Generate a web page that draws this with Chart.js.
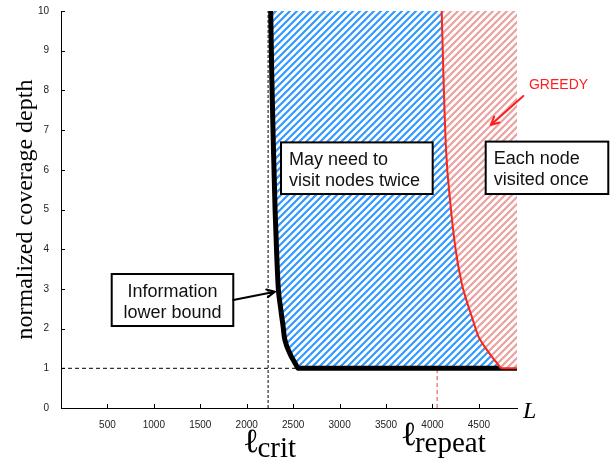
<!DOCTYPE html>
<html>
<head>
<meta charset="utf-8">
<script src="https://cdn.jsdelivr.net/npm/chart.js@4.4.0/dist/chart.umd.min.js"></script>
<style>
  html, body { margin: 0; padding: 0; background: #fff; }
  canvas { display: block; }
</style>
</head>
<body>
<canvas id="c" width="614" height="462"></canvas>
<script>
// Information lower bound: normalized coverage depth as a function of L
const lowerBoundL     = [2258, 2270, 2288, 2305, 2322, 2340, 2360, 2377, 2392, 2404, 2425, 2448, 2475, 2501, 2530, 2555, 4910];
const lowerBoundDepth = [10, 8.3, 6.5, 5.0, 3.9, 3.0, 2.6, 2.3, 2.05, 1.8, 1.6, 1.46, 1.32, 1.21, 1.09, 1.0, 1.0];

// GREEDY: normalized coverage depth as a function of L
const greedyL     = [4099, 4120, 4146, 4189, 4250, 4315, 4370, 4422, 4493, 4540, 4584, 4640, 4692, 4745, 4910];
const greedyDepth = [10, 8.2, 6.5, 5.24, 3.98, 3.14, 2.68, 2.31, 1.81, 1.62, 1.47, 1.29, 1.14, 1.0, 1.0];

// Thresholds
const lCrit = 2230;
const lRepeat = 4050;
const depthFloor = 1;

// Axis extents and ticks
const lMax = 4910;
const depthMax = 10;
const xTickValues = [500, 1000, 1500, 2000, 2500, 3000, 3500, 4000, 4500];
const yTickValues = [0, 1, 2, 3, 4, 5, 6, 7, 8, 9, 10];

const pts = (xs, ys) => xs.map((x, i) => ({ x, y: ys[i] }));
const floorEndL = lowerBoundL[lowerBoundDepth.findIndex(d => d <= depthFloor)];

const canvas = document.getElementById('c');
const ctx = canvas.getContext('2d');

// diagonal hatch fill on a white ground
function hatch(color) {
  const s = 7;
  const tile = document.createElement('canvas');
  tile.width = s; tile.height = s;
  const g = tile.getContext('2d');
  g.fillStyle = '#ffffff';
  g.fillRect(0, 0, s, s);
  g.strokeStyle = color;
  g.lineWidth = 2.2;
  g.beginPath();
  for (const o of [-s, 0, s]) {
    g.moveTo(o - 1, s + 1);
    g.lineTo(o + s + 1, -1);
  }
  g.stroke();
  return ctx.createPattern(tile, 'repeat');
}
const blueHatch = hatch('#3399ff');
const pinkHatch = hatch('#eba1a1');

// text boxes, in data coordinates (L, depth)
const notes = [
  { x0: 546,  x1: 1855, yTop: 3.375, yBot: 2.065, lines: ['Information', 'lower bound'], align: 'center' },
  { x0: 2369, x1: 4002, yTop: 6.69,  yBot: 5.39,  lines: ['May need to', 'visit nodes twice'], align: 'left' },
  { x0: 4573, x1: 5893, yTop: 6.71,  yBot: 5.39,  lines: ['Each node', 'visited once'], align: 'left' }
];
const arrows = [
  { from: [1855, 2.72], to: [2304, 2.93], color: '#000' },
  { from: [4978, 7.86], to: [4627, 7.13], color: '#ff1f1f' }
];

function drawArrow(c, ax, ay, bx, by, color) {
  const ang = Math.atan2(by - ay, bx - ax);
  const h = 9, spread = 0.45;
  c.save();
  c.strokeStyle = color;
  c.lineWidth = 2;
  c.lineCap = 'round';
  c.lineJoin = 'round';
  c.beginPath();
  c.moveTo(ax, ay);
  c.lineTo(bx, by);
  c.moveTo(bx - h * Math.cos(ang - spread), by - h * Math.sin(ang - spread));
  c.lineTo(bx, by);
  c.lineTo(bx - h * Math.cos(ang + spread), by - h * Math.sin(ang + spread));
  c.stroke();
  c.restore();
}

const decorations = {
  id: 'decorations',
  afterDraw(chart) {
    const c = chart.ctx;
    const xs = chart.scales.x, ys = chart.scales.y;
    const area = chart.chartArea;
    c.save();

    // inward tick marks
    c.strokeStyle = '#000';
    c.lineWidth = 1;
    c.beginPath();
    xTickValues.forEach(v => {
      const px = Math.round(xs.getPixelForValue(v)) + 0.5;
      c.moveTo(px, area.bottom);
      c.lineTo(px, area.bottom - 4);
    });
    yTickValues.forEach(v => {
      const py = Math.round(ys.getPixelForValue(v)) + 0.5;
      c.moveTo(area.left, py);
      c.lineTo(area.left + 4, py);
    });
    c.stroke();

    // y axis title
    c.save();
    c.translate(32, (area.top + area.bottom) / 2);
    c.rotate(-Math.PI / 2);
    c.fillStyle = '#000';
    c.font = '24px "Liberation Serif", "Times New Roman", serif';
    c.textAlign = 'center';
    c.textBaseline = 'alphabetic';
    c.fillText('normalized coverage depth', 0, 0);
    c.restore();

    // x axis variable
    c.fillStyle = '#000';
    c.font = 'italic 24px "Liberation Serif", "Times New Roman", serif';
    c.textAlign = 'left';
    c.textBaseline = 'alphabetic';
    c.fillText('L', area.right + 6, area.bottom + 10);

    // threshold labels under the axis
    const ell = (value, dx, base, sub, subDrop) => {
      const left = xs.getPixelForValue(value) + dx;
      c.font = '34px "Liberation Serif", "DejaVu Serif", serif';
      c.fillText('\u2113', left, area.bottom + base);
      const w = c.measureText('\u2113').width;
      c.font = '29px "Liberation Serif", "DejaVu Serif", serif';
      c.fillText(sub, left + w - 2, area.bottom + base + subDrop);
    };
    ell(lCrit, -25, 44, 'crit', 4.5);
    ell(lRepeat, -36.5, 37, 'repeat', 6.5);

    // text boxes
    notes.forEach(n => {
      const x0 = xs.getPixelForValue(n.x0), x1 = xs.getPixelForValue(n.x1);
      const y0 = ys.getPixelForValue(n.yTop), y1 = ys.getPixelForValue(n.yBot);
      c.fillStyle = '#fff';
      c.fillRect(x0, y0, x1 - x0, y1 - y0);
      c.strokeStyle = '#000';
      c.lineWidth = 2;
      c.strokeRect(x0, y0, x1 - x0, y1 - y0);
      c.fillStyle = '#111';
      c.font = '18px "Liberation Sans", Arial, sans-serif';
      c.textAlign = n.align;
      const tx = n.align === 'center' ? (x0 + x1) / 2 : x0 + 8;
      n.lines.forEach((t, i) => c.fillText(t, tx, y0 + 22.5 + i * 21));
    });

    // arrows
    arrows.forEach(a => {
      drawArrow(c,
        xs.getPixelForValue(a.from[0]), ys.getPixelForValue(a.from[1]),
        xs.getPixelForValue(a.to[0]), ys.getPixelForValue(a.to[1]), a.color);
    });

    // GREEDY tag
    c.fillStyle = '#ff1f1f';
    c.font = '14px "Liberation Sans", Arial, sans-serif';
    c.textAlign = 'left';
    c.fillText('GREEDY', xs.getPixelForValue(5039), ys.getPixelForValue(8.03));

    c.restore();
  }
};

new Chart(ctx, {
  type: 'line',
  data: {
    datasets: [
      {
        label: 'GREEDY',
        data: pts(greedyL, greedyDepth),
        borderColor: '#ff2414',
        borderWidth: 2,
        backgroundColor: pinkHatch,
        fill: 'end',
        pointRadius: 0,
        cubicInterpolationMode: 'monotone'
      },
      {
        label: 'Information lower bound',
        data: pts(lowerBoundL, lowerBoundDepth),
        borderColor: '#000',
        borderWidth: 5,
        backgroundColor: blueHatch,
        fill: 'end',
        pointRadius: 0,
        borderJoinStyle: 'round',
        cubicInterpolationMode: 'monotone'
      },
      {
        label: 'l_repeat',
        data: [{ x: lRepeat, y: 0 }, { x: lRepeat, y: depthMax }],
        borderColor: 'rgba(235, 45, 35, 0.9)',
        borderWidth: 1,
        borderDash: [4, 3],
        fill: false,
        pointRadius: 0
      },
      {
        label: 'l_crit',
        data: [{ x: lCrit, y: 0 }, { x: lCrit, y: depthMax }],
        borderColor: '#000',
        borderWidth: 1,
        borderDash: [3, 2],
        fill: false,
        pointRadius: 0
      },
      {
        label: 'depth 1',
        data: [{ x: 0, y: depthFloor }, { x: floorEndL, y: depthFloor }],
        borderColor: '#000',
        borderWidth: 1,
        borderDash: [4, 3],
        fill: false,
        pointRadius: 0
      }
    ]
  },
  options: {
    responsive: false,
    animation: false,
    devicePixelRatio: 1,
    layout: { padding: { top: 11, right: 97, bottom: 0, left: 0 } },
    plugins: { legend: { display: false }, tooltip: { enabled: false } },
    scales: {
      x: {
        type: 'linear',
        min: 0,
        max: lMax,
        afterFit: s => { s.height = 54; },
        afterBuildTicks: s => { s.ticks = xTickValues.map(v => ({ value: v })); },
        grid: { display: false },
        border: { display: true, color: '#000', width: 1 },
        ticks: {
          padding: 3,
          maxRotation: 0,
          autoSkip: false,
          color: '#222',
          callback: v => String(v),
          font: { family: '"Liberation Sans", Arial, sans-serif', size: 10 }
        }
      },
      y: {
        type: 'linear',
        min: 0,
        max: depthMax,
        afterFit: s => { s.width = 61; },
        afterBuildTicks: s => { s.ticks = yTickValues.map(v => ({ value: v })); },
        grid: { display: false },
        border: { display: true, color: '#000', width: 1 },
        ticks: {
          padding: 4,
          color: '#222',
          callback: v => String(v),
          font: { family: '"Liberation Sans", Arial, sans-serif', size: 10 }
        }
      }
    }
  },
  plugins: [decorations]
});
</script>
</body>
</html>
